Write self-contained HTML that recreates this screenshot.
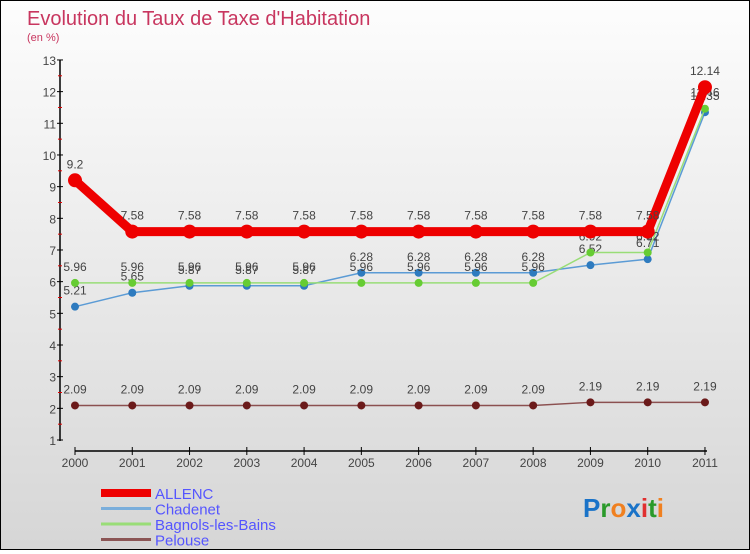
<!DOCTYPE html>
<html><head><meta charset="utf-8"><style>
body{margin:0;width:750px;height:550px;overflow:hidden;font-family:"Liberation Sans",sans-serif}
#wrap{position:relative;width:748px;height:548px;border:1px solid #000;background:linear-gradient(#fdfdfd,#d6d6d6)}
</style></head><body>
<div id="wrap">
<svg id="chart" width="748" height="548"></svg>
</div>
<script>
const years=["2000","2001","2002","2003","2004","2005","2006","2007","2008","2009","2010","2011"];
const allenc=[9.2,7.58,7.58,7.58,7.58,7.58,7.58,7.58,7.58,7.58,7.58,12.14];
const chadenet=[5.21,5.65,5.87,5.87,5.87,6.28,6.28,6.28,6.28,6.52,6.71,11.35];
const bagnols=[5.96,5.96,5.96,5.96,5.96,5.96,5.96,5.96,5.96,6.92,6.92,11.46];
const pelouse=[2.09,2.09,2.09,2.09,2.09,2.09,2.09,2.09,2.09,2.19,2.19,2.19];
const yTicks=[1,2,3,4,5,6,7,8,9,10,11,12,13];
const legendNames=["ALLENC","Chadenet","Bagnols-les-Bains","Pelouse"];

const svg=document.getElementById('chart');
const NS="http://www.w3.org/2000/svg";
const x=i=>74+i*57.27;
const y=v=>439-(v-1)*31.67;
function mk(t,a,p){const e=document.createElementNS(NS,t);for(const k in a)e.setAttribute(k,a[k]);(p||svg).appendChild(e);return e;}
function txt(s,a){const e=mk('text',a);e.textContent=s;return e;}

let t=txt("Evolution du Taux de Taxe d'Habitation",{x:26,y:24,'font-size':20,fill:'#c8365f'});


t=txt("(en %)",{x:26,y:40,'font-size':11,fill:'#c8365f'});



let ax=mk('line',{x1:59,y1:59,x2:59,y2:440,stroke:'#000','stroke-width':1.5});


yTicks.forEach(v=>{
  mk('line',{x1:56,y1:y(v),x2:62,y2:y(v),stroke:'#000'});
  if(v<13) mk('line',{x1:57,y1:y(v+0.5),x2:61,y2:y(v+0.5),stroke:'#d00'});
  const l=txt(v,{x:55,y:y(v)+5,'font-size':12,fill:'#444','text-anchor':'end'});
  
  
});
ax=mk('line',{x1:74,y1:450,x2:706,y2:450,stroke:'#000','stroke-width':1.5});


years.forEach((yr,i)=>{
  mk('line',{x1:x(i),y1:446,x2:x(i),y2:454,stroke:'#000'});
  const l=txt(yr,{x:x(i),y:466,'font-size':12,fill:'#444','text-anchor':'middle'});
  
  
});

function series(vals,color,dot,w,r,name){
  const g=mk('g',{});
  
  
  mk('polyline',{points:vals.map((v,i)=>x(i)+','+y(v)).join(' '),fill:'none',stroke:color,'stroke-width':w},g);
  vals.forEach((v,i)=>{
    const c=mk('circle',{cx:x(i),cy:y(v),r:r,fill:dot},g);
    
    
    const l=mk('text',{x:x(i),y:y(v)-12,'font-size':12,fill:'#444','text-anchor':'middle'},g);
    l.textContent=String(v);
  });
}
series(pelouse,'#8b5050','#6b1a1a',1.5,4,'series-pelouse');
series(chadenet,'#5b9bd5','#2e7bbf',1.5,4,'series-chadenet');
series(bagnols,'#99dd77','#66cc33',1.5,4,'series-bagnols');
series(allenc,'#ee0000','#ee0000',9,7,'series-allenc');

const lc=['#ee0000','#7aaedb','#99dd77','#8b5555'];
const lw=[8,3,3,3];
legendNames.forEach((n,i)=>{
  const yy=492+i*15.5;
  const g=mk('g',{});
  
  
  mk('line',{x1:100,y1:yy,x2:150,y2:yy,stroke:lc[i],'stroke-width':lw[i]},g);
  const l=mk('text',{x:154,y:yy+6,'font-size':15,fill:'#5555ff'},g);l.textContent=n;
});
const lg=mk('text',{x:582,y:516,'font-size':26,'font-weight':'bold'});


[['P','#1a73c8'],['r','#2a9a2a'],['o','#f08020'],['x','#1a73c8'],['i','#e03030'],['t','#2a9a2a'],['i','#f08020']].forEach(([c,f])=>{const s=mk('tspan',{fill:f},lg);s.textContent=c;});
</script>
</body></html>
